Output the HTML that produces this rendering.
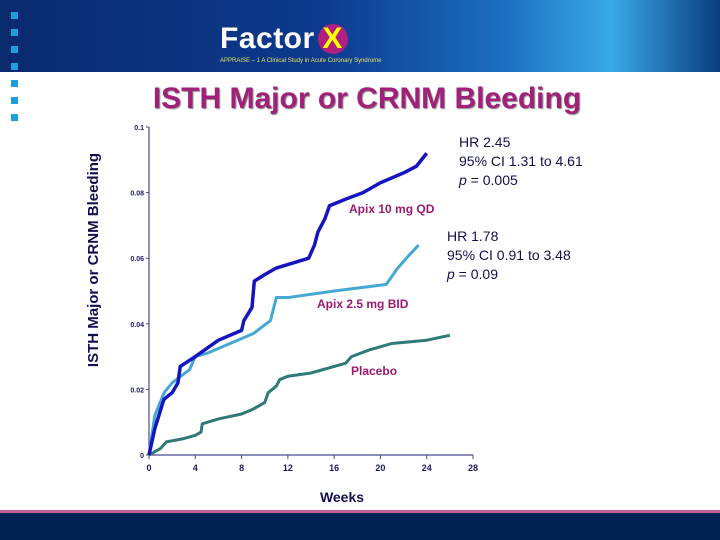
<!DOCTYPE html>
<html><head><meta charset="utf-8"><style>
body{margin:0;width:720px;height:540px;overflow:hidden;background:#fff;font-family:"Liberation Sans",sans-serif;position:relative}
.sq{position:absolute;left:11px;width:7px;height:7px;background:#1ea0dc}
</style></head><body>
<div style="position:absolute;left:0;top:0;width:720px;height:72px;background:linear-gradient(90deg,#0a2a6e 0%,#0d3a8e 45%,#1b6fc0 70%,#3aa8e6 85%,#0a3d7c 100%)"></div>
<div style="position:absolute;left:220px;top:22px;color:#fff;font-size:30px;font-weight:bold;letter-spacing:0.5px">Factor<span style="display:inline-block;width:30px;height:30px;border-radius:50%;background:#b02080;color:#ff0;text-align:center;line-height:30px;margin-left:3px">X</span></div>
<div style="position:absolute;left:220px;top:58px;color:#e8e060;font-size:6px">APPRAISE – 1 A Clinical Study in Acute Coronary Syndrome</div>
<div class="sq" style="top:12px"></div><div class="sq" style="top:29px"></div><div class="sq" style="top:46px"></div><div class="sq" style="top:63px"></div><div class="sq" style="top:80px"></div><div class="sq" style="top:97px"></div><div class="sq" style="top:114px"></div>
<div style="position:absolute;left:0;width:720px;top:82px;text-align:center;color:#a0207a;font-size:30px;font-weight:bold;text-shadow:1px 1px 1px #888;padding-left:7px">ISTH Major or CRNM Bleeding</div>
<svg id="chart" width="720" height="540" style="position:absolute;left:0;top:0"></svg>
<div style="position:absolute;left:0;top:510px;width:720px;height:3px;background:#c0609a"></div>
<div style="position:absolute;left:0;top:513px;width:720px;height:27px;background:#012150"></div>
<script>
const xTicks=[0,4,8,12,16,20,24,28];
const yTicks=[0,0.02,0.04,0.06,0.08,0.1];
const yTickLabels=["0","0.02","0.04","0.06","0.08","0.1"];
const apix10Weeks=[0,0.5,1.2,1.3,2,2.5,2.7,4,6,8,8.2,8.9,9.1,10,11,13.8,14.3,14.6,15.2,15.6,17,18.5,20,22,23.1,24];
const apix10Values=[0,0.008,0.016,0.017,0.019,0.022,0.027,0.030,0.035,0.038,0.041,0.045,0.053,0.055,0.057,0.060,0.064,0.068,0.072,0.076,0.078,0.080,0.083,0.086,0.088,0.092];
const apix25Weeks=[0,0.5,1.3,2,3.5,4,5,7,9,10.5,11,12,16,20.5,21.5,22.5,23.3];
const apix25Values=[0,0.012,0.019,0.022,0.026,0.030,0.031,0.034,0.037,0.041,0.048,0.048,0.050,0.052,0.057,0.061,0.064];
const placeboWeeks=[0,1,1.5,3,4,4.5,4.6,6,8,9,10,10.3,11,11.3,12,14,17,17.5,19,21,24,26];
const placeboValues=[0,0.002,0.004,0.005,0.006,0.007,0.0095,0.011,0.0125,0.014,0.016,0.019,0.021,0.023,0.024,0.025,0.028,0.030,0.032,0.034,0.035,0.0365];
const X0=149,X1=473,Y0=455,Y1=127;
const sx=w=>X0+(w-0)/28*(X1-X0);
const sy=v=>Y0-(v/0.1)*(Y0-Y1);
const svg=document.getElementById('chart');const NS='http://www.w3.org/2000/svg';
function mk(t,a){const e=document.createElementNS(NS,t);for(const k in a)e.setAttribute(k,a[k]);svg.appendChild(e);return e;}
let ax=mk('path',{d:`M${X0},${Y1}V${Y0}H${X1}`,stroke:'#4a4a90',fill:'none','stroke-width':1.2});


xTicks.forEach(t=>{const l=mk('line',{x1:sx(t),x2:sx(t),y1:Y0,y2:Y0+4,stroke:'#4a4a90'});


const tx=mk('text',{x:sx(t),y:Y0+16,'text-anchor':'middle','font-size':9,'font-weight':'bold',fill:'#1a1a60','font-family':'Liberation Sans'});tx.textContent=t;

});
yTicks.forEach((t,i)=>{const l=mk('line',{x1:X0-3,x2:X0,y1:sy(t),y2:sy(t),stroke:'#4a4a90'});


const tx=mk('text',{x:X0-5,y:sy(t)+3,'text-anchor':'end','font-size':7,'font-weight':'bold',fill:'#1a1a60','font-family':'Liberation Sans'});tx.textContent=yTickLabels[i];

});
function line(ws,vs,c,w,name){const p=mk('polyline',{points:ws.map((x,i)=>sx(x)+','+sy(vs[i])).join(' '),stroke:c,'stroke-width':w,fill:'none','stroke-linejoin':'round'});

}
line(placeboWeeks,placeboValues,'#2e7a78',3,'placebo-line');
line(apix25Weeks,apix25Values,'#45a8d4',3,'apix-2-5-line');
line(apix10Weeks,apix10Values,'#1515c0',3.5,'apix-10-line');
function txt(s,x,y,opt,name){const t=mk('text',Object.assign({x:x,y:y,'font-family':'Liberation Sans'},opt));t.textContent=s;

return t;}
const lab={'font-size':12,'font-weight':'bold',fill:'#9a1a70'};
txt('Apix 10 mg QD',349,213,lab,'label-apix-10');
txt('Apix 2.5 mg BID',317,308,lab,'label-apix-2-5');
txt('Placebo',351,375,lab,'label-placebo');
const hr={'font-size':14,fill:'#101050'};
txt('HR 2.45',459,147,hr,'hr-apix-10');
txt('95% CI 1.31 to 4.61',459,166,hr,'ci-apix-10');
const p1=txt('',459,185,hr,'p-apix-10');p1.innerHTML='<tspan font-style="italic">p</tspan> = 0.005';
txt('HR 1.78',447,241,hr,'hr-apix-2-5');
txt('95% CI 0.91 to 3.48',447,260,hr,'ci-apix-2-5');
const p2=txt('',447,279,hr,'p-apix-2-5');p2.innerHTML='<tspan font-style="italic">p</tspan> = 0.09';
txt('Weeks',342,502,{'font-size':14,'font-weight':'bold',fill:'#101050','text-anchor':'middle'},'x-axis-title');
txt('ISTH Major or CRNM Bleeding',0,0,{'font-size':15,'font-weight':'bold',fill:'#101050','text-anchor':'middle',transform:'translate(98,260) rotate(-90)'},'y-axis-title');
</script>
</body></html>
